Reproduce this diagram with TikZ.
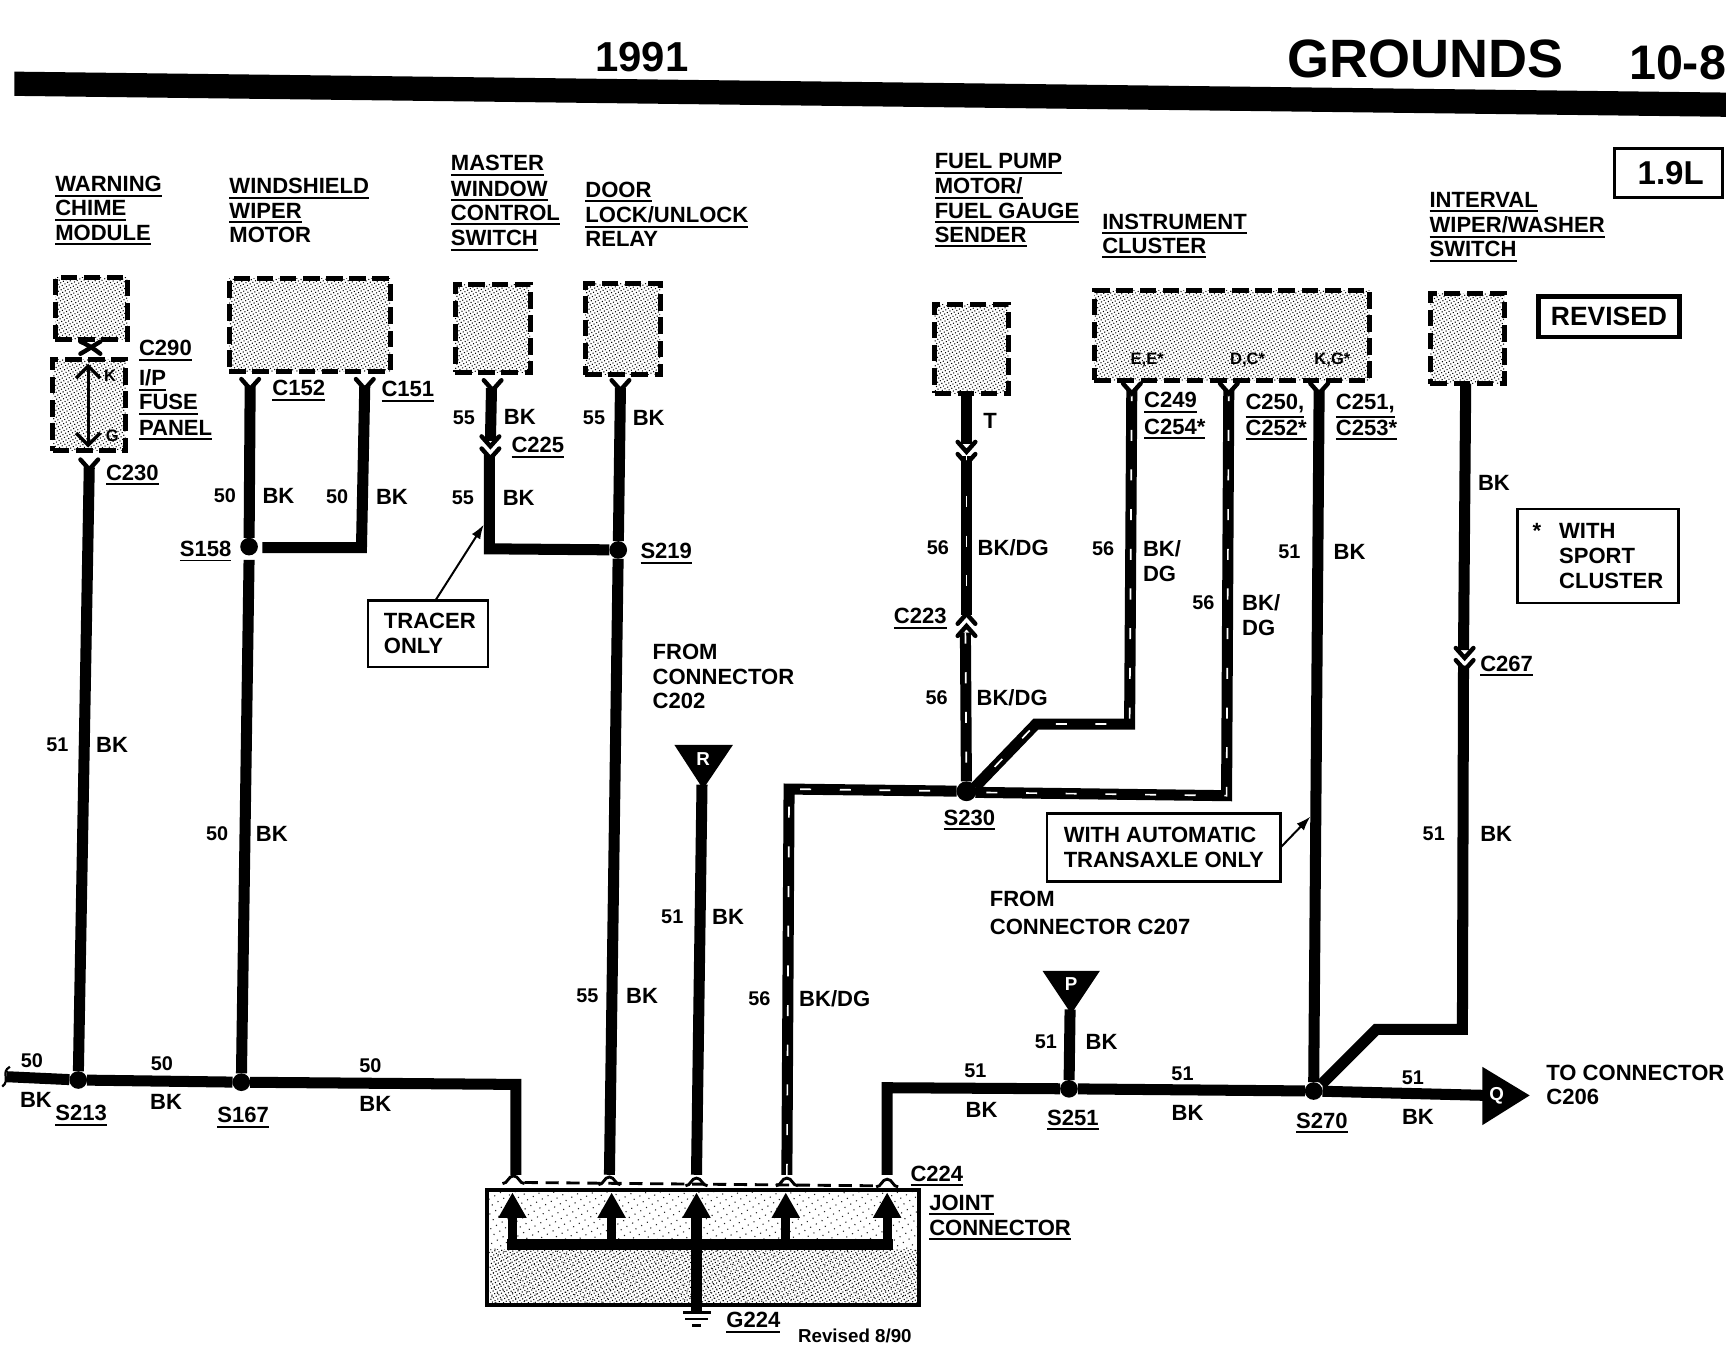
\documentclass[tikz,border=0pt]{standalone}
\usepackage{fontspec}
\setmainfont{Liberation Sans}[BoldFont={Liberation Sans Bold}]
\usetikzlibrary{arrows.meta,patterns.meta,shapes.geometric}
\newcommand\ul[1]{\vtop{\hbox{#1}\kern2.5pt\hrule height 1.8pt}}
\newcommand\T[3]{\node[lab] (#1) at (#2) {#3};}
\newcommand\Ts[3]{\node[slab] (#1) at (#2) {#3};}
\newcommand\Cn[3]{\node[nlab] (#1) at (#2) {#3};}
\newcommand\Bx[7]{\pgfmathsetmacro\cx{(#3+#5)/2}\pgfmathsetmacro\cy{(#4+#6)/2}\pgfmathsetmacro\wx{#5-#3}\pgfmathsetmacro\hy{#6-#4}\node[#2,minimum width=\wx pt,minimum height=\hy pt] (#1) at (\cx,\cy) {#7};}
\newcommand\dn[2]{\draw[chev] (#1-8,#2-8) -- (#1,#2+1) -- (#1+8,#2-8);}
\newcommand\up[2]{\draw[chev] (#1-8,#2+8) -- (#1,#2-1) -- (#1+8,#2+8);}
\newcommand\arch[2]{\draw[line width=2.6pt] (#1-10,#2+4) .. controls (#1-5,#2+4) and (#1-5,#2-3) .. (#1,#2-3) .. controls (#1+5,#2-3) and (#1+5,#2+4) .. (#1+10,#2+4);}
\tikzset{
 x=1pt,y=-1pt,
 wire/.style={line width=10pt,draw=black},
 dgw/.style={line width=10pt,draw=black,postaction={draw=white,line width=1.5pt,dash pattern=on 10pt off 26pt}},
 chev/.style={line width=4pt,draw=black,line cap=round,line join=miter},
 lab/.style={anchor=base west,inner sep=0pt,font=\fontsize{20}{23}\selectfont\bfseries},
 slab/.style={anchor=base,inner sep=0pt,font=\fontsize{15}{16}\selectfont\bfseries},
 nlab/.style={anchor=base,inner sep=0pt,font=\fontsize{18}{20}\selectfont\bfseries},
 stip/.style={pattern={Dots[radius=0.68pt,distance=2.8pt,angle=30]},pattern color=black},
 sparse/.style={pattern={Dots[radius=0.7pt,distance=6pt,angle=30]},pattern color=black!85},
 dbox/.style={rectangle,inner sep=0pt,outer sep=0pt,draw=black,line width=4.5pt,dash pattern=on 15pt off 6pt,stip},
 tbox/.style={rectangle,inner sep=0pt,outer sep=0pt,draw=black,line width=2.2pt,align=left,font=\fontsize{20}{23}\selectfont\bfseries},
 splice/.style={circle,fill=black,inner sep=0pt,minimum size=16pt,outer sep=0pt},
 thin arrow/.style={line width=1.8pt,-{Latex[length=13pt,width=9pt]}},
 open/.style={line width=3pt,{Straight Barb[length=11pt,width=22pt]}-{Straight Barb[length=11pt,width=22pt]}},
 big/.style={line width=8pt,-{Triangle[length=23pt,width=24pt]}},
}
\begin{document}
\begin{tikzpicture}
\useasboundingbox (0,0) rectangle (1568,1219.6);
\fill[white] (0,0) rectangle (1568,1219.6);
% header
\fill (13,65) -- (1566,84) -- (1566,106) -- (13,87) -- cycle;
\node[lab,font=\fontsize{38}{40}\selectfont\bfseries] (year) at (540,65) {1991};
\node[lab,font=\fontsize{49}{50}\selectfont\bfseries] (title) at (1168,70) {GROUNDS};
\node[lab,font=\fontsize{44}{50}\selectfont\bfseries] (page) at (1478,72) {10-8};
\Bx{engine}{tbox,line width=3pt,font=\fontsize{30}{32}\selectfont\bfseries,align=center}{1465}{135}{1563}{179}{\hspace*{4pt}1.9L}
\Bx{revised}{tbox,line width=4pt,font=\fontsize{24}{26}\selectfont\bfseries,align=center}{1396}{269}{1524}{306}{REVISED}
\Bx{sport}{tbox}{1377}{462}{1523}{547}{\makebox[24pt][l]{*}WITH\\\hspace*{24pt}SPORT\\\hspace*{24pt}CLUSTER}
\Bx{tracer}{tbox}{334}{545}{443}{605}{\hspace*{3pt}TRACER\\\hspace*{3pt}ONLY}
\Bx{auto}{tbox}{950}{738}{1162}{800}{WITH AUTOMATIC\\TRANSAXLE ONLY}
% component titles
\T{t1a}{50,174}{\ul{WARNING}}\T{t1b}{50,196}{\ul{CHIME}}\T{t1c}{50,218}{\ul{MODULE}}
\T{t2a}{208,176}{\ul{WINDSHIELD}}\T{t2b}{208,198}{\ul{WIPER}}\T{t2c}{208,220}{MOTOR}
\T{t3a}{409,155}{\ul{MASTER}}\T{t3b}{409,178}{\ul{WINDOW}}\T{t3c}{409,200}{\ul{CONTROL}}\T{t3d}{409,223}{\ul{SWITCH}}
\T{t4a}{531,179}{\ul{DOOR}}\T{t4b}{531,202}{\ul{LOCK/UNLOCK}}\T{t4c}{531,224}{RELAY}
\T{t5a}{848,153}{\ul{FUEL PUMP}}\T{t5b}{848,176}{\ul{MOTOR/}}\T{t5c}{848,198}{\ul{FUEL GAUGE}}\T{t5d}{848,220}{\ul{SENDER}}
\T{t6a}{1000,208}{\ul{INSTRUMENT}}\T{t6b}{1000,230}{\ul{CLUSTER}}
\T{t7a}{1297,188}{\ul{INTERVAL}}\T{t7b}{1297,211}{\ul{WIPER/WASHER}}\T{t7c}{1297,233}{\ul{SWITCH}}
% component boxes
\Bx{chime}{dbox}{50}{252}{116}{308}{}
\Bx{ipfuse}{dbox}{48}{326}{114}{409}{}
\Bx{wiper}{dbox}{208}{253}{354}{337}{}
\Bx{master}{dbox}{413}{258}{481}{338}{}
\Bx{door}{dbox}{531}{257}{599}{340}{}
\Bx{fuel}{dbox}{848}{276}{915}{357}{}
\Bx{cluster}{dbox}{993}{264}{1243}{345}{}
\Bx{interval}{dbox}{1298}{266}{1365}{348}{}
\Ts{pk}{100,346}{K}\Ts{pg}{102,401}{G}
\Ts{pe}{1041,331}{E,E*}\Ts{pd}{1132,331}{D,C*}\Ts{pkg}{1209,331}{K,G*}
% splices
\node[splice] (s213) at (71,980) {};
\node[splice] (s167) at (219,982) {};
\node[splice] (s158) at (226,496) {};
\node[splice] (s219) at (561,499) {};
\node[splice,minimum size=18pt] (s230) at (877,718) {};
\node[splice] (s251) at (970,988) {};
\node[splice] (s270) at (1192,990) {};
% coordinates
\coordinate (c230) at (81,424);
\coordinate (c152) at (227,350);
\coordinate (c151) at (331,350);
\coordinate (b151) at (328,497);
\coordinate (g158) at (238,497);
\coordinate (t158) at (226,508);
\coordinate (c225a) at (446,352);
\coordinate (c225b) at (445,400);
\coordinate (c225c) at (444,413);
\coordinate (b225) at (444,498);
\coordinate (c563) at (563,352);
\coordinate (r1) at (637,712);
\coordinate (j1) at (468,1066);
\coordinate (j2) at (553,1066);
\coordinate (j3) at (632,1066);
\coordinate (j4) at (714,1066);
\coordinate (j5) at (805,1066);
\coordinate (start) at (6,977);
\coordinate (e1) at (468,984);
\coordinate (e2) at (805,987);
\coordinate (dg1) at (716,716);
\coordinate (f1) at (877,357);
\coordinate (f2) at (877,403);
\coordinate (f3) at (877,414);
\coordinate (f4) at (877,558);
\coordinate (f5) at (876,574);
\coordinate (k1) at (1027,354);
\coordinate (k2) at (1025,657);
\coordinate (k3) at (940,657);
\coordinate (k4) at (885,714);
\coordinate (m1) at (1115,354);
\coordinate (m2) at (1113,722);
\coordinate (m3) at (885,719);
\coordinate (n1) at (1197,354);
\coordinate (i1) at (1330,348);
\coordinate (i2) at (1328,590);
\coordinate (i3) at (1328,604);
\coordinate (i4) at (1327,934);
\coordinate (i5) at (1249,934);
\coordinate (i6) at (1199,984);
\coordinate (q1) at (1350,994);
\coordinate (p1) at (971,916);
\coordinate (x1) at (80,330);
\coordinate (x2) at (80,406);
% wires
\draw[wire] (c230) -- (s213);
\draw[wire,line join=miter] (c152) -- (s158);
\draw[wire] (t158) -- (s167);
\draw[wire,line join=miter] (c151) -- (b151) -- (g158);
\draw[wire] (c225a) -- (c225b);
\draw[wire,line join=miter] (c225c) -- (b225) -- (s219);
\draw[wire] (c563) -- (s219) -- (j2);
\draw[wire] (r1) -- (j3);
\draw[wire,line join=miter] (start) -- (s213) -- (s167) -- (e1) -- (j1);
\draw[wire,line join=miter] (j5) -- (e2) -- (s251) -- (s270);
\draw[wire] (p1) -- (s251);
\draw[wire] (f1) -- (f2);
\draw[dgw] (f3) -- (f4);
\draw[dgw] (f5) -- (s230);
\draw[dgw,line join=miter] (j4) -- (dg1) -- (s230);
\draw[dgw,line join=miter] (k1) -- (k2) -- (k3) -- (k4);
\draw[dgw,line join=miter] (m1) -- (m2) -- (m3);
\draw[wire] (n1) -- (s270);
\draw[wire] (i1) -- (i2);
\draw[wire,line join=miter] (i3) -- (i4) -- (i5) -- (i6);
\draw[wire] (s270) -- (q1);
\draw[open] (x1) -- (x2);
% connectors on wires
\draw[chev] (73,310) .. controls (80,313) and (86,317) .. (91,321);
\draw[chev] (91,310) .. controls (86,313) and (80,317) .. (73,321);
\dn{81}{425}\dn{227}{352}\dn{331}{352}\dn{447}{353}\dn{563}{353}
\dn{445}{404}\dn{445}{415}
\dn{877}{409}\dn{877}{420}
\up{877}{558}\up{877}{569}
\dn{1027}{356}\dn{1115}{356}\dn{1197}{356}
\dn{1329}{596}\dn{1329}{607}
% joint connector
\arch{466}{1070}\arch{553}{1071}\arch{632}{1072}\arch{714}{1072}\arch{805}{1073}
\draw[line width=2.6pt,dash pattern=on 12pt off 7pt] (476,1073) -- (795,1076);
\Bx{joint}{rectangle,inner sep=0pt,outer sep=0pt,draw=black,line width=3.5pt,sparse}{442}{1080}{834}{1184}{}
\fill[stip] (445,1134) rectangle (832,1182);
\coordinate (ta) at (465,1082);\coordinate (tb) at (555,1082);\coordinate (tc) at (632,1082);\coordinate (td) at (713,1082);\coordinate (te) at (805,1082);
\coordinate (ba) at (465,1129);\coordinate (bb) at (555,1129);\coordinate (bc) at (632,1129);\coordinate (bd) at (713,1129);\coordinate (be) at (805,1129);
\coordinate (gnd) at (632,1190);
\draw[line width=10pt] (460,1129) -- (bc) -- (810,1129);
\draw[big] (ba) -- (ta);\draw[big] (bb) -- (tb);\draw[big] (bd) -- (td);\draw[big] (be) -- (te);
\draw[big,line width=10pt] (gnd) -- (tc);
\draw[line width=2.4pt] (620,1191) -- (645,1191);
\draw[line width=2.4pt] (622,1197) -- (642,1197);
\draw[line width=2.4pt] (628,1203) -- (636,1203);
% triangles
\fill (612,676) -- (665,676) -- (638,716) -- cycle;
\node[font=\fontsize{17}{18}\selectfont\bfseries,white,inner sep=0pt] (R) at (638,689) {R};
\fill (946,881) -- (998,881) -- (972,920) -- cycle;
\node[font=\fontsize{17}{18}\selectfont\bfseries,white,inner sep=0pt] (P) at (972,893) {P};
\fill (1345,968) -- (1388,994) -- (1345,1021) -- cycle;
\node[font=\fontsize{17}{18}\selectfont\bfseries,white,inner sep=0pt] (Q) at (1358,994) {Q};
\draw[line width=2pt] (9,968) .. controls (0,973) and (10,980) .. (2,986);
% arrows from notes
\coordinate (tr1) at (395,545);\coordinate (tr2) at (439,476);
\draw[thin arrow] (tr1) -- (tr2);
\coordinate (au1) at (1162,769);\coordinate (au2) at (1189,741);
\draw[thin arrow] (au1) -- (au2);
% connector labels
\T{l290}{126,323}{\ul{C290}}\T{lip}{126,350}{\ul{I/P}}\T{lfuse}{126,372}{\ul{FUSE}}\T{lpanel}{126,395}{\ul{PANEL}}
\T{l230}{96,436}{\ul{C230}}\T{l152}{247,359}{\ul{C152}}\T{l151}{346,360}{\ul{C151}}
\T{l225}{464,411}{\ul{C225}}\T{l158}{163,505}{\ul{S158}}\T{l219}{581,507}{\ul{S219}}
\T{l249}{1038,370}{\ul{C249}}\T{l254}{1038,394}{\ul{C254*}}
\T{l250}{1130,372}{\ul{C250,}}\T{l252}{1130,395}{\ul{C252*}}
\T{l251}{1212,372}{\ul{C251,}}\T{l253}{1212,395}{\ul{C253*}}
\T{l223}{811,566}{\ul{C223}}\T{l267}{1343,609}{\ul{C267}}
\T{l230s}{856,749}{\ul{S230}}
\T{l213}{50,1017}{\ul{S213}}\T{l167}{197,1019}{\ul{S167}}\T{l251s}{950,1021}{\ul{S251}}\T{l270}{1176,1024}{\ul{S270}}
\T{l224}{826,1072}{\ul{C224}}\T{ljoint}{843,1098}{\ul{JOINT}}\T{lconn}{843,1121}{\ul{CONNECTOR}}
\T{lg224}{659,1205}{\ul{G224}}
\node[lab,font=\fontsize{17}{18}\selectfont\bfseries] (rev) at (724,1218) {Revised 8/90};
\T{f202a}{592,598}{FROM}\T{f202b}{592,621}{CONNECTOR}\T{f202c}{592,643}{C202}
\T{f207a}{898,823}{FROM}\T{f207b}{898,848}{CONNECTOR C207}
\T{toa}{1403,980}{TO CONNECTOR}\T{tob}{1403,1002}{C206}
% wire labels
\Cn{n1a}{52,682}{51}\T{n1b}{87,683}{BK}
\Cn{n2a}{204,456}{50}\T{n2b}{238,457}{BK}
\Cn{n3a}{306,457}{50}\T{n3b}{341,458}{BK}
\Cn{n4a}{197,763}{50}\T{n4b}{232,764}{BK}
\Cn{n5a}{421,385}{55}\T{n5b}{457,385}{BK}
\Cn{n6a}{420,458}{55}\T{n6b}{456,459}{BK}
\Cn{n7a}{539,385}{55}\T{n7b}{574,386}{BK}
\Cn{n8a}{533,910}{55}\T{n8b}{568,911}{BK}
\Cn{n9a}{610,838}{51}\T{n9b}{646,839}{BK}
\Cn{n10a}{689,912}{56}\T{n10b}{725,913}{BK/DG}
\T{n11}{892,389}{T}
\Cn{n12a}{851,503}{56}\T{n12b}{887,504}{BK/DG}
\Cn{n13a}{850,639}{56}\T{n13b}{886,640}{BK/DG}
\Cn{n14a}{1001,504}{56}\T{n14b}{1037,505}{BK/}\T{n14c}{1037,528}{DG}
\Cn{n15a}{1092,553}{56}\T{n15b}{1127,554}{BK/}\T{n15c}{1127,577}{DG}
\Cn{n16a}{1170,507}{51}\T{n16b}{1210,508}{BK}
\T{n17}{1341,445}{BK}
\Cn{n18a}{1301,763}{51}\T{n18b}{1343,764}{BK}
\Cn{n19a}{29,969}{50}\T{n19b}{18,1005}{BK}
\Cn{n20a}{147,971}{50}\T{n20b}{136,1007}{BK}
\Cn{n21a}{336,973}{50}\T{n21b}{326,1009}{BK}
\Cn{n22a}{885,978}{51}\T{n22b}{876,1014}{BK}
\Cn{n23a}{949,951}{51}\T{n23b}{985,952}{BK}
\Cn{n24a}{1073,980}{51}\T{n24b}{1063,1017}{BK}
\Cn{n25a}{1282,984}{51}\T{n25b}{1272,1020}{BK}
\end{tikzpicture}
\end{document}
